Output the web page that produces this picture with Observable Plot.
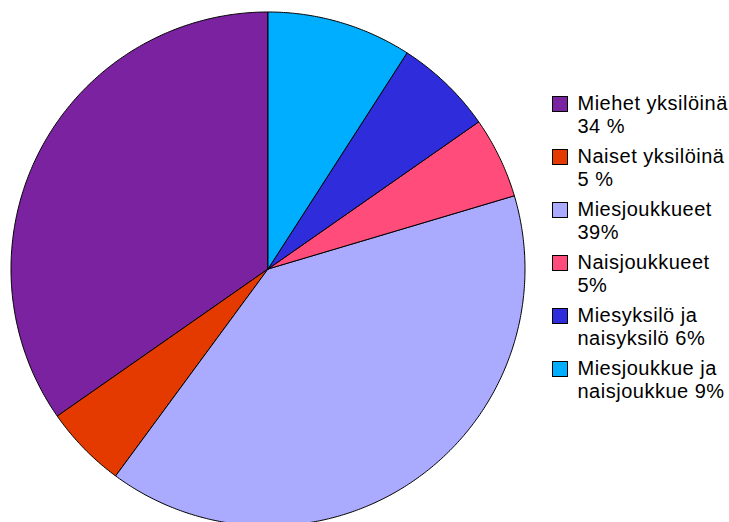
<!DOCTYPE html>
<html><head><meta charset="utf-8">
<script src="https://cdn.jsdelivr.net/npm/d3@7"></script>
<script src="https://cdn.jsdelivr.net/npm/@observablehq/plot@0.6"></script>
<style>
html,body{margin:0;padding:0;background:#fff;overflow:hidden}
#wrap{position:relative;width:729px;height:522px;overflow:hidden}
#legend{position:absolute;left:552px;top:91.6px;font-family:"Liberation Sans",Arial,sans-serif;font-size:20px;line-height:23.5px;letter-spacing:0.5px;color:#000}
.item{display:flex;align-items:flex-start;height:47px;margin-bottom:6px;white-space:nowrap}
.sw{width:14px;height:14px;border:1px solid #000;margin-top:4px;margin-right:9.5px;flex:none}
</style></head><body><div id="wrap"></div>
<script>
const categories = ["Miehet yksilöinä", "Naiset yksilöinä", "Miesjoukkueet", "Naisjoukkueet", "Miesyksilö ja naisyksilö", "Miesjoukkue ja naisjoukkue"];
const values = [34.7, 5.2, 39.7, 5.1, 6.2, 9.1];
const colors = ["#7B22A1", "#E43A00", "#AAAAFF", "#FF4C7A", "#2F2CDC", "#00AEFF"];
const legendLine1 = ["Miehet yksilöinä", "Naiset yksilöinä", "Miesjoukkueet", "Naisjoukkueet", "Miesyksilö ja", "Miesjoukkue ja"];
const legendLine2 = ["34 %", "5 %", "39%", "5%", "naisyksilö 6%", "naisjoukkue 9%"];

// build slice outlines (counter-clockwise from 12 o'clock) from the values
const total = d3.sum(values);
const ends = d3.cumsum(values);
const pts = [];
categories.forEach((cat, i) => {
  const a0 = (ends[i] - values[i]) / total * 2 * Math.PI;
  const a1 = ends[i] / total * 2 * Math.PI;
  pts.push({cat, x: 0, y: 0});
  const n = Math.max(2, Math.ceil((a1 - a0) / (Math.PI / 360)));
  for (let k = 0; k <= n; k++) {
    const a = a0 + (a1 - a0) * k / n;
    pts.push({cat, x: -Math.sin(a), y: Math.cos(a)});
  }
  pts.push({cat, x: 0, y: 0});
});

const chart = Plot.plot({
  width: 729,
  height: 522,
  margin: 0,
  style: {background: "transparent", overflow: "hidden"},
  x: {domain: [-1, 1], range: [10.5, 524.5], axis: null},
  y: {domain: [-1, 1], range: [525.5, 11.5], axis: null},
  color: {domain: categories, range: colors},
  marks: [
    Plot.line(pts, {x: "x", y: "y", z: "cat", fill: "cat", stroke: "#000", strokeWidth: 1, strokeLinejoin: "round"})
  ]
});
const wrap = document.getElementById("wrap");
wrap.appendChild(chart);

const legend = document.createElement("div");
legend.id = "legend";
categories.forEach((cat, i) => {
  const item = document.createElement("div");
  item.className = "item";
  const sw = document.createElement("div");
  sw.className = "sw";
  sw.style.background = chart.scale("color").apply(cat);
  const txt = document.createElement("div");
  txt.innerHTML = legendLine1[i] + "<br>" + legendLine2[i];
  item.appendChild(sw);
  item.appendChild(txt);
  legend.appendChild(item);
});
wrap.appendChild(legend);
</script>
</body></html>
